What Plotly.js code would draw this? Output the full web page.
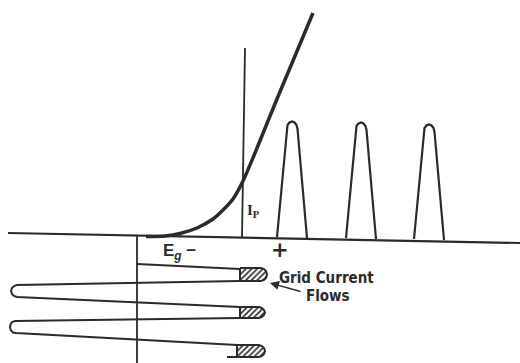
<!DOCTYPE html>
<html>
<head>
<meta charset="utf-8">
<script src="https://cdn.plot.ly/plotly-3.0.1.min.js"></script>
<style>html,body{margin:0;padding:0;background:#fff;}#chart{width:520px;height:363px;}</style>
</head>
<body>
<div id="chart"></div>
<script>
// Diagram coordinates (x: grid voltage axis to the right, y: downward on the page)
const baseX = [8, 520];
const baseY = [233, 243];

const gridAxisX = [137, 137];
const gridAxisY = [236, 363];

const curveX = [146, 165, 180, 197, 213, 222, 233, 243, 278, 313];
const curveY = [236.5, 236, 233.5, 228, 219, 211, 199, 181, 96.5, 13];

const ipX = [245, 242];
const ipY = [48, 237];

const pulse1X = [277, 286.5, 287.5, 289.5, 292, 294.5, 296.5, 297.5, 307];
const pulse1Y = [237, 129, 125, 122.5, 121.5, 122.5, 125, 129, 238];
const pulse2X = [346, 355.5, 356.5, 358.5, 361, 363.5, 365.5, 366.5, 376];
const pulse2Y = [238, 130, 126, 123.5, 122.5, 123.5, 126, 130, 239];
const pulse3X = [414, 423.5, 424.5, 426.5, 429, 431.5, 433.5, 434.5, 444];
const pulse3Y = [239, 132, 128, 125.5, 124.5, 125.5, 128, 132, 240];

const waveX = [137, 240, null,
  240, 17, 14, 12, 11, 12, 14, 17, 240, null,
  240, 15, 12, 10.5, 10, 11, 13, 16, 237, null,
  237, 227];
const waveY = [264, 269, null,
  281, 285, 286, 288, 291, 294, 296, 297, 307, null,
  318, 321, 322, 324.5, 327.5, 330.5, 332.5, 333, 345, null,
  357, 357];

const cap1X = [240, 261, 264, 266, 267, 266, 264, 261, 240, 240];
const cap1Y = [268, 268, 269, 271, 274.5, 278, 280, 281, 281, 268];
const cap2X = [240, 259, 262, 264, 265, 264, 262, 259, 240, 240];
const cap2Y = [307, 307, 308, 310, 312.5, 315, 317, 318, 318, 307];
const cap3X = [237, 259, 262, 264, 265, 264, 262, 259, 237, 237];
const cap3Y = [345, 345, 346, 348, 351, 354, 356, 357, 357, 345];

const labelTexts = ['E<sub><i>g</i></sub> \u2212', '+', 'I<sub>P</sub>', 'Grid Current', 'Flows'];
const labelX = [161, 280, 245, 277, 304];
const labelY = [252, 250, 211, 277.5, 296];

const arrowHead = [270, 283];
const arrowTail = [302, 292];

const ink = '#2b2b2b';
function line(x, y, w) {
  return {type: 'scatter', mode: 'lines', x: x, y: y, hoverinfo: 'skip',
          line: {color: ink, width: w}, showlegend: false};
}
function cap(x, y) {
  return {type: 'scatter', mode: 'lines', x: x, y: y, fill: 'toself',
          fillcolor: 'white', hoverinfo: 'skip', showlegend: false,
          fillpattern: {shape: '/', fgcolor: ink, bgcolor: 'white', size: 4, solidity: 0.4},
          line: {color: ink, width: 2}};
}
const curve = line(curveX, curveY, 3.5);
curve.line.shape = 'spline';
curve.line.smoothing = 0.8;

const traces = [
  line(baseX, baseY, 2.2),
  line(gridAxisX, gridAxisY, 1.8),
  curve,
  line(ipX, ipY, 1.8),
  line(pulse1X, pulse1Y, 2.2),
  line(pulse2X, pulse2Y, 2.2),
  line(pulse3X, pulse3Y, 2.2),
  line(waveX, waveY, 2),
  cap(cap1X, cap1Y),
  cap(cap2X, cap2Y),
  cap(cap3X, cap3Y)
];

const sansBold = 'Liberation Sans Narrow, DejaVu Sans Condensed, Arial Narrow, sans-serif';
const fonts = [
  {family: 'Liberation Sans, Arial, sans-serif', size: 17, color: ink, weight: 'bold'},
  {family: 'DejaVu Sans, sans-serif', size: 21, color: ink, weight: 'bold'},
  {family: 'Liberation Serif, Times New Roman, serif', size: 15, color: ink, weight: 'bold'},
  {family: sansBold, size: 15, color: ink, weight: 'bold'},
  {family: sansBold, size: 15, color: ink, weight: 'bold'}
];
const anchors = ['left', 'center', 'left', 'left', 'left'];

const annotations = labelTexts.map((t, i) => ({
  x: labelX[i], y: labelY[i], xref: 'x', yref: 'y', text: t, showarrow: false,
  xanchor: anchors[i], yanchor: 'middle', font: fonts[i]
}));
annotations.push({
  x: arrowHead[0], y: arrowHead[1], ax: arrowTail[0], ay: arrowTail[1],
  xref: 'x', yref: 'y', axref: 'x', ayref: 'y', text: '', showarrow: true,
  arrowhead: 2, arrowsize: 1.2, arrowwidth: 1.5, arrowcolor: ink
});

const layout = {
  width: 520, height: 363,
  margin: {l: 0, r: 0, t: 0, b: 0},
  paper_bgcolor: 'white', plot_bgcolor: 'white',
  xaxis: {range: [0, 520], visible: false, showgrid: false, zeroline: false, fixedrange: true},
  yaxis: {range: [363, 0], visible: false, showgrid: false, zeroline: false, fixedrange: true},
  showlegend: false,
  annotations: annotations
};

Plotly.newPlot('chart', traces, layout, {staticPlot: true, displayModeBar: false});
</script>
</body>
</html>
